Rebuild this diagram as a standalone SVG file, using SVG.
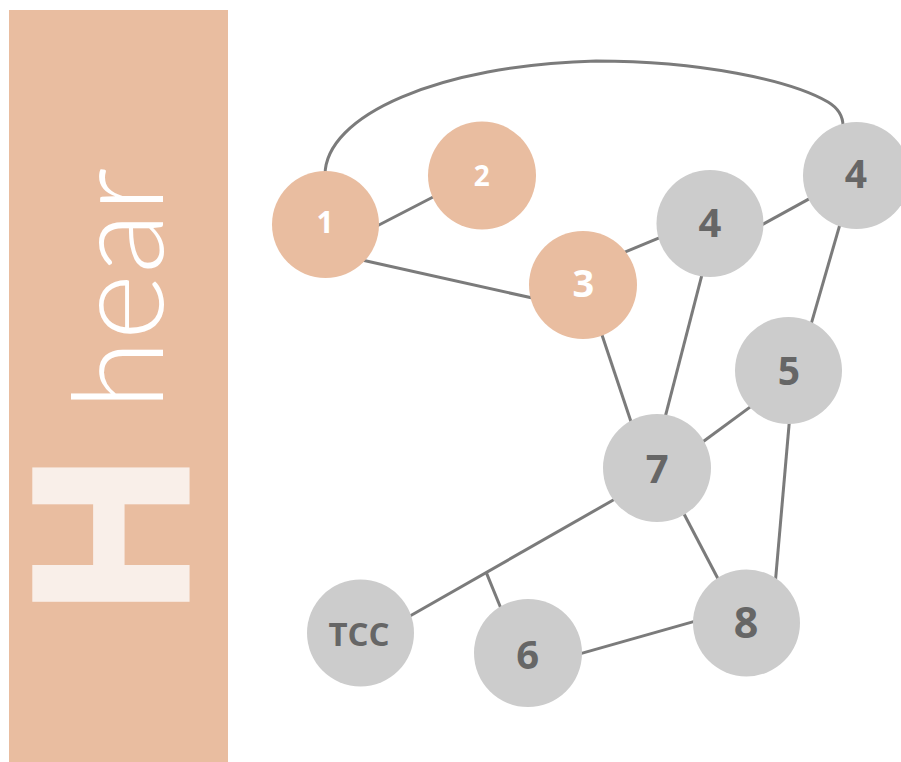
<svg xmlns="http://www.w3.org/2000/svg" width="901" height="762" viewBox="0 0 901 762">
<style>
.edge{stroke:#7b7b7b;stroke-width:3;fill:none}
.on{fill:#e9bda0}
.gn{fill:#cccccc}
.ot{fill:#ffffff;font-family:"Open Sans","DejaVu Sans",sans-serif;font-weight:700;text-anchor:middle}
.gt{fill:#666666;font-family:"Open Sans","DejaVu Sans",sans-serif;font-weight:700;text-anchor:middle}
</style>
<rect width="901" height="762" fill="#ffffff"/>
<g id="sidebar">
<rect x="9" y="10" width="219" height="752" fill="#e9bda0"/>
<text transform="translate(187,614) rotate(-90)" font-family="'Liberation Sans',Arial,sans-serif" font-weight="700" font-size="220" fill="#f9efe9" stroke="#f9efe9" stroke-width="5">H</text>
<text transform="translate(163,410) rotate(-90)" font-family="Lato,'Open Sans',sans-serif" font-weight="300" font-size="127" fill="#ffffff">hear</text>
</g>
<g id="connectors">
<path class="edge" d="M325,176 C324,115 440,65 596,61 C700,61 790,80 828,102 C838,108 843,115 843,126"/>
<line class="edge" x1="376" y1="226.5" x2="436" y2="195.5"/>
<line class="edge" x1="363" y1="260.3" x2="533.6" y2="298.3"/>
<line class="edge" x1="623" y1="252.8" x2="661" y2="237.2"/>
<line class="edge" x1="760.7" y1="225.4" x2="810.9" y2="197.9"/>
<line class="edge" x1="840.1" y1="223.8" x2="811.2" y2="323.9"/>
<line class="edge" x1="601" y1="332" x2="631.6" y2="423.5"/>
<line class="edge" x1="701.8" y1="275.4" x2="665.2" y2="416.9"/>
<line class="edge" x1="751.7" y1="405.9" x2="701.6" y2="442.8"/>
<line class="edge" x1="789.3" y1="422" x2="775.4" y2="581.3"/>
<line class="edge" x1="682.6" y1="511.3" x2="719.7" y2="582"/>
<line class="edge" x1="615.9" y1="498.5" x2="409.1" y2="616.5"/>
<line class="edge" x1="486.3" y1="572.6" x2="501.8" y2="610.5"/>
<line class="edge" x1="578.8" y1="654.1" x2="696.2" y2="620.9"/>
</g>
<g id="node-1"><circle class="on" cx="325.5" cy="224.5" r="53.5"/><text class="ot" x="325" y="232.7" font-size="30">1</text></g>
<g id="node-2"><circle class="on" cx="482" cy="175.5" r="54"/><text class="ot" x="481.7" y="186" font-size="28">2</text></g>
<g id="node-3"><circle class="on" cx="583" cy="285" r="54"/><text class="ot" x="583.3" y="297.3" font-size="38">3</text></g>
<g id="node-4a"><circle class="gn" cx="710" cy="223.5" r="53.5"/><text class="gt" x="710" y="237.3" font-size="40">4</text></g>
<g id="node-4b"><circle class="gn" cx="856.5" cy="175.5" r="53.5"/><text class="gt" x="856" y="188.3" font-size="39">4</text></g>
<g id="node-5"><circle class="gn" cx="788.5" cy="370.5" r="53.5"/><text class="gt" x="789" y="385" font-size="39">5</text></g>
<g id="node-7"><circle class="gn" cx="657" cy="468" r="54"/><text class="gt" x="657.3" y="482.7" font-size="40">7</text></g>
<g id="node-8"><circle class="gn" cx="746.5" cy="623" r="53.5"/><text class="gt" x="746" y="637.7" font-size="43">8</text></g>
<g id="node-6"><circle class="gn" cx="528" cy="653" r="54"/><text class="gt" x="527.7" y="669.3" font-size="40">6</text></g>
<g id="node-tcc"><circle class="gn" cx="360.5" cy="633" r="53.5"/><text class="gt" x="359" y="646" font-size="33">TCC</text></g>
</svg>
